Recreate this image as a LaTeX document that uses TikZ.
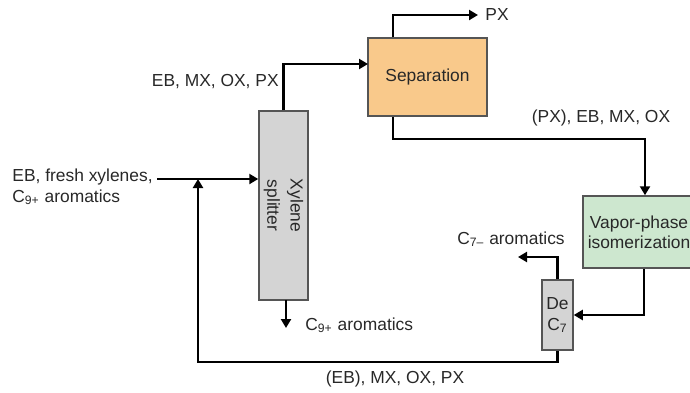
\documentclass[tikz,border=0pt]{standalone}
\usepackage{fontspec}
\setmainfont{Liberation Sans}
\usepackage{xcolor}
\usetikzlibrary{arrows.meta, positioning, calc}
\definecolor{columnfill}{RGB}{212, 212, 212}
\definecolor{sepfill}{RGB}{249, 201, 139}
\definecolor{isofill}{RGB}{205, 231, 207}
\definecolor{unitborder}{RGB}{85, 85, 85}
\definecolor{labeltext}{RGB}{40, 40, 40}
\tikzset{
  font=\fontsize{8.7}{10.2}\selectfont,
  every node/.style={text=labeltext},
  baseblock/.style={
    rectangle, line width=0.75pt, draw=unitborder,
    inner sep=0pt, align=center
  },
  columnblock/.style={baseblock, fill=columnfill},
  sepblock/.style={baseblock, fill=sepfill},
  isoblock/.style={baseblock, fill=isofill},
  streamlabel/.style={inner sep=0pt, align=left},
  flowline/.style={
    draw=black, -{Triangle[length=4.5pt, width=5pt]}, line width=1.15pt
  }
}

\begin{document}
\begin{tikzpicture}[x=0.5pt, y=-0.5pt]
  \useasboundingbox (0,0) rectangle (690,392);

  % Units
  \node[columnblock, minimum width=24.5pt, minimum height=94.5pt] (splitter) at (283.5,205.5) {};
  \node[rotate=-90, align=center, inner sep=0pt] (splittertext) at (splitter) {Xylene\\[1.5pt]splitter};
  \node[sepblock, minimum width=59.5pt, minimum height=39pt] (sep) at (427.5,77) {Separation};
  \node[isoblock, minimum width=56pt, minimum height=36pt] (iso) at (639,232) {Vapor-phase\\isomerization};
  \node[columnblock, minimum width=15.5pt, minimum height=35pt] (dec7) at (557.5,315) {De\\C\textsubscript{7}};

  % Stream labels
  \node[streamlabel, anchor=west] (feed) at (12,187) {EB, fresh xylenes,\\C\textsubscript{9+} aromatics};
  \node[streamlabel, anchor=east] (overhead) at (279,82) {EB, MX, OX, PX};
  \node[streamlabel, anchor=west] (px) at (485,15) {PX};
  \node[streamlabel, anchor=center] (isofeed) at (601,118) {(PX), EB, MX, OX};
  \node[streamlabel, anchor=center] (lights) at (511,239) {C\textsubscript{7–} aromatics};
  \node[streamlabel, anchor=west] (heavies) at (305,325) {C\textsubscript{9+} aromatics};
  \node[streamlabel, anchor=center] (recyclelabel) at (395,379) {(EB), MX, OX, PX};

  % Free ends and bends
  \coordinate (feedstart) at (157,179);
  \coordinate (sepin) at (368,64);
  \coordinate (pxend) at (478,15);
  \coordinate (isobend) at (645,139);
  \coordinate (lightsend) at (518,257);
  \coordinate (heavytop) at (286,300);
  \coordinate (heavyend) at (286,328);
  \coordinate (recyclebend) at (198,362);

  % Streams
  \draw[flowline] (feedstart) -- (feedstart -| splitter.west);
  \draw[flowline] (splitter.north) |- (sepin);
  \draw[flowline] ([xshift=13pt]sep.north west) |- (pxend);
  \draw[flowline] ([xshift=13pt]sep.south west) |- (isobend) -- (isobend |- iso.north);
  \draw[flowline] ([xshift=2.5pt]iso.south) |- (dec7.east);
  \draw[flowline] (dec7.north) |- (lightsend);
  \draw[flowline] (heavytop) -- (heavyend);
  \draw[flowline] (dec7.south) |- (recyclebend) -- (recyclebend |- feedstart);

\end{tikzpicture}
\end{document}
